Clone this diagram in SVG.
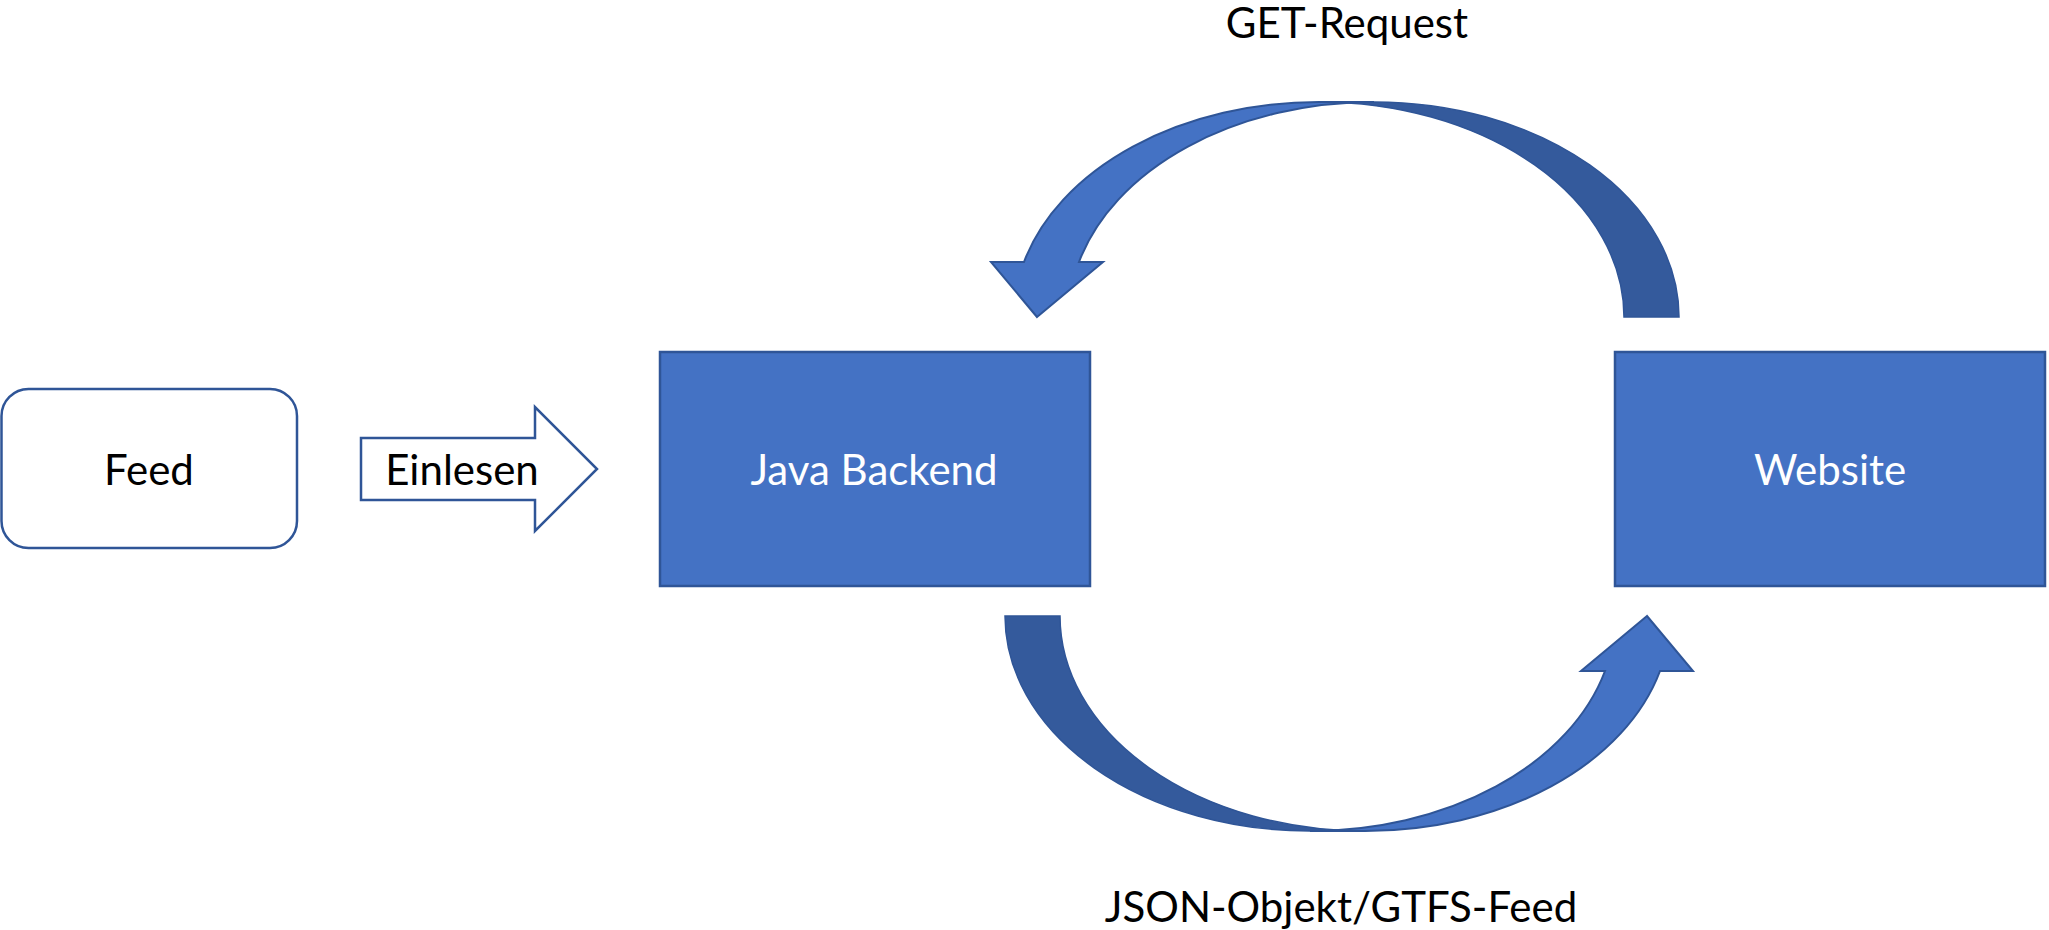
<svg xmlns="http://www.w3.org/2000/svg" width="2049" height="930" viewBox="0 0 2049 930">
<style>
.lbl{font-family:Lato,"Open Sans","Liberation Sans",sans-serif;font-size:42px;fill:#000}
.wl{font-family:Lato,"Open Sans","Liberation Sans",sans-serif;font-size:42px;fill:#fff}
.box{fill:#4472C4;stroke:#2F5597;stroke-width:2.5}
.light{fill:#4472C4;stroke:#2F5597;stroke-width:2;stroke-linejoin:miter}
.dark{fill:#345A9C;stroke:#2F5597;stroke-width:1.5}
.outline{fill:#fff;stroke:#2F5597;stroke-width:2.5}
</style>
<rect width="2049" height="930" fill="#fff"/>
<g id="feed">
<rect class="outline" x="1.5" y="389" width="295.5" height="159" rx="27" ry="27"/>
<text class="lbl" x="149" y="485" text-anchor="middle">Feed</text>
</g>
<g id="java-backend">
<rect class="box" x="660" y="352" width="430" height="234"/>
<text class="wl" x="874" y="485" text-anchor="middle">Java Backend</text>
</g>
<g id="website">
<rect class="box" x="1615" y="352" width="430" height="234"/>
<text class="wl" x="1830" y="485" text-anchor="middle">Website</text>
</g>
<g id="connectors">
<g id="einlesen">
<polygon class="outline" points="361,438 535,438 535,407 597,469 535,531 535,500 361,500"/>
<text class="lbl" x="462" y="485" text-anchor="middle">Einlesen</text>
</g>
<g id="get-request">
<path class="dark" d="M1679,317 A305,215 0 0 0 1374,102 L1319,102 A305,215 0 0 1 1624,317 Z"/>
<path class="light" d="M1037,317 L1103,262 L1079,262 A305,215 0 0 1 1374,102 L1319,102 A305,215 0 0 0 1024,262 L991,262 Z"/>
<text class="lbl" x="1347" y="38" text-anchor="middle">GET-Request</text>
</g>
<g id="json-feed">
<path class="dark" d="M1005,616 A305,215 0 0 0 1310,831 L1365,831 A305,215 0 0 1 1060,616 Z"/>
<path class="light" d="M1647,616 L1581,671 L1605,671 A305,215 0 0 1 1310,831 L1365,831 A305,215 0 0 0 1660,671 L1693,671 Z"/>
<text class="lbl" x="1341" y="922" text-anchor="middle">JSON-Objekt/GTFS-Feed</text>
</g>
</g>
</svg>
